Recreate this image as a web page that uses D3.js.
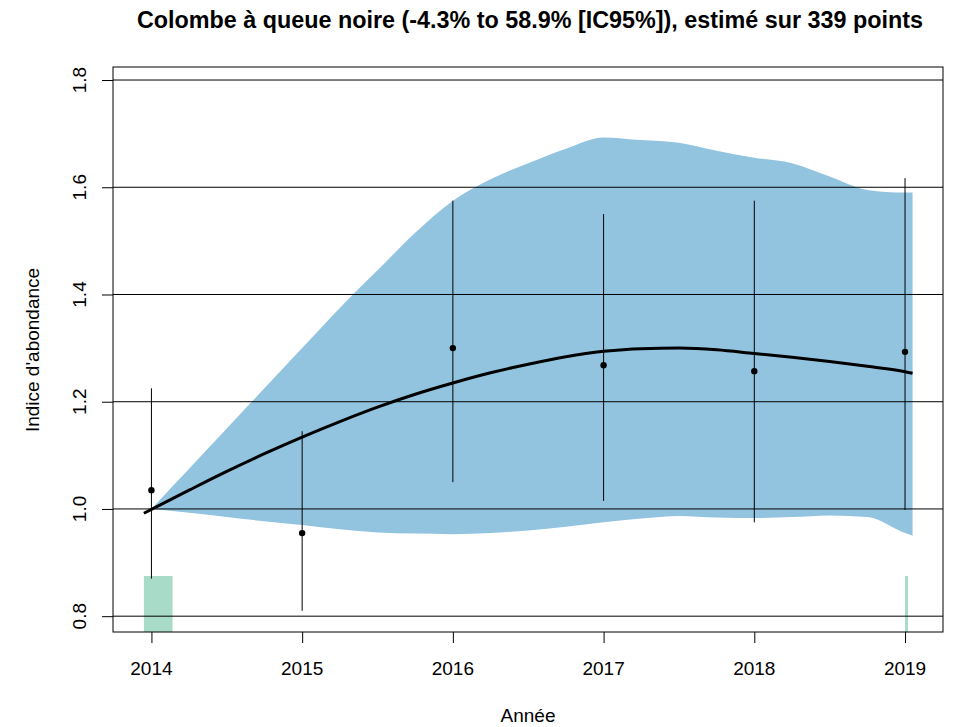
<!DOCTYPE html>
<html><head><meta charset="utf-8">
<script src="https://cdn.jsdelivr.net/npm/d3@7"></script>
<style>body{margin:0;background:#fff;} text{font-family:"Liberation Sans",Arial,sans-serif;}</style>
</head><body>
<svg id="c" width="957" height="727"></svg>
<script>
const years = [2014, 2015, 2016, 2017, 2018, 2019];
const yearTicks = [2014, 2015, 2016, 2017, 2018, 2019];
const yTicks = [0.8, 1.0, 1.2, 1.4, 1.6, 1.8];
const pointValues = [1.035, 0.955, 1.300, 1.268, 1.257, 1.293];
const pointLow = [0.870, 0.810, 1.050, 1.015, 0.975, 0.998];
const pointHigh = [1.225, 1.145, 1.575, 1.550, 1.575, 1.617];
const trendX = [2013.95, 2014.25, 2014.5, 2014.75, 2015, 2015.25, 2015.5, 2015.75, 2016, 2016.25, 2016.5, 2016.75, 2017, 2017.25, 2017.5, 2017.75, 2018, 2018.25, 2018.5, 2018.75, 2019, 2019.05];
const trendY = [0.992, 1.035, 1.07, 1.103, 1.134, 1.163, 1.19, 1.214, 1.235, 1.254, 1.27, 1.284, 1.294, 1.299, 1.300, 1.297, 1.290, 1.283, 1.275, 1.266, 1.256, 1.253];
const bandX = [2014.0, 2014.25, 2014.5, 2014.75, 2015, 2015.25, 2015.5, 2015.75, 2016, 2016.25, 2016.5, 2016.75, 2017, 2017.25, 2017.5, 2017.75, 2018, 2018.25, 2018.5, 2018.75, 2019, 2019.05];
const bandHigh = [1.0, 1.075, 1.15, 1.225, 1.3, 1.375, 1.445, 1.515, 1.575, 1.615, 1.645, 1.672, 1.693, 1.688, 1.683, 1.668, 1.655, 1.645, 1.620, 1.595, 1.590, 1.590];
const bandLow = [1.0, 0.993, 0.985, 0.977, 0.970, 0.962, 0.956, 0.954, 0.953, 0.955, 0.960, 0.967, 0.975, 0.982, 0.987, 0.984, 0.983, 0.985, 0.988, 0.985, 0.955, 0.950];
const barX0 = [2013.95, 2019.0];
const barX1 = [2014.14, 2019.02];
const barTop = [0.875, 0.875];

const svg = d3.select("#c");
const L = 113, R = 943, T = 67, B = 632;
const x = d3.scaleLinear().domain([2013.745, 2019.252]).range([L, R]);
const y = d3.scaleLinear().domain([0.7705, 1.8243]).range([B, T]);

// title
svg.append("text").attr("x", 530).attr("y", 28).attr("text-anchor", "middle")
  .attr("font-weight", "bold").attr("font-size", 23)
  .attr("textLength", 786).attr("lengthAdjust", "spacingAndGlyphs")
  .text("Colombe à queue noire (-4.3% to 58.9% [IC95%]), estimé sur 339 points");

const clipId = "pc";
svg.append("clipPath").attr("id", clipId).append("rect").attr("x", L).attr("y", T).attr("width", R - L).attr("height", B - T);
const g = svg.append("g").attr("clip-path", `url(#${clipId})`);

// band
const band = bandX.map((v, i) => ({x: v, lo: bandLow[i], hi: bandHigh[i]}));
g.append("path").datum(band).attr("fill", "#92c4e0")
  .attr("d", d3.area().x(d => x(d.x)).y0(d => y(d.lo)).y1(d => y(d.hi)).curve(d3.curveMonotoneX));

// green bars
g.selectAll("rect.bar").data(barX0).join("rect").attr("class", "bar")
  .attr("x", (d, i) => x(d)).attr("width", (d, i) => Math.max(1.5, x(barX1[i]) - x(d)))
  .attr("y", (d, i) => y(barTop[i])).attr("height", (d, i) => B - y(barTop[i]))
  .attr("fill", "#a8dcc9");

// gridlines
g.selectAll("line.grid").data(yTicks).join("line").attr("class", "grid")
  .attr("x1", L).attr("x2", R).attr("y1", d => y(d)).attr("y2", d => y(d))
  .attr("stroke", "#000").attr("stroke-width", 1);

// error bars
g.selectAll("line.err").data(years).join("line").attr("class", "err")
  .attr("x1", d => x(d)).attr("x2", d => x(d))
  .attr("y1", (d, i) => y(pointLow[i])).attr("y2", (d, i) => y(pointHigh[i]))
  .attr("stroke", "#000").attr("stroke-width", 1);

// points
g.selectAll("circle").data(years).join("circle")
  .attr("cx", d => x(d)).attr("cy", (d, i) => y(pointValues[i])).attr("r", 3.2).attr("fill", "#000");

// trend
const trend = trendX.map((v, i) => ({x: v, y: trendY[i]}));
g.append("path").datum(trend).attr("fill", "none").attr("stroke", "#000").attr("stroke-width", 3)
  .attr("d", d3.line().x(d => x(d.x)).y(d => y(d.y)).curve(d3.curveMonotoneX));

// box
svg.append("rect").attr("x", L).attr("y", T).attr("width", R - L).attr("height", B - T)
  .attr("fill", "none").attr("stroke", "#000").attr("stroke-width", 1);

// x axis
const xa = svg.append("g").attr("transform", `translate(0,${B})`)
  .call(d3.axisBottom(x).tickValues(yearTicks).tickFormat(d3.format("d")).tickSize(11));
xa.select(".domain").remove();
xa.selectAll("text").remove();
svg.selectAll("text.xt").data(yearTicks).join("text").attr("class", "xt")
  .attr("x", d => x(d)).attr("y", 675).attr("text-anchor", "middle").attr("font-size", 19).text(d3.format("d"));

// y axis
const ya = svg.append("g").attr("transform", `translate(${L},0)`)
  .call(d3.axisLeft(y).tickValues(yTicks).tickFormat(d3.format(".1f")).tickSize(11));
ya.select(".domain").remove();
ya.selectAll("text").remove();
svg.selectAll("text.yt").data(yTicks).join("text").attr("class", "yt")
  .attr("transform", d => `translate(86,${y(d)}) rotate(-90)`)
  .attr("text-anchor", "middle").attr("font-size", 19).text(d3.format(".1f"));

// axis labels
svg.append("text").attr("x", 528).attr("y", 722).attr("text-anchor", "middle").attr("font-size", 19).text("Année");
svg.append("text").attr("transform", "translate(39,350) rotate(-90)").attr("text-anchor", "middle").attr("font-size", 19).text("Indice d'abondance");
</script>
</body></html>
